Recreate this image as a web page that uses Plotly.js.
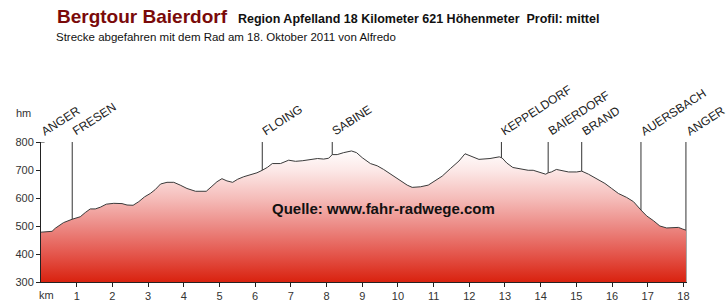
<!DOCTYPE html>
<html>
<head>
<meta charset="utf-8">
<script src="https://cdn.plot.ly/plotly-3.0.1.min.js"></script>
<style>html,body{margin:0;padding:0;background:#fff;}#chart{width:726px;height:303px;}</style>
</head>
<body>
<div id="chart"></div>
<script>
// ---- data ----
var km = [0, 0.31, 0.4, 0.49, 0.63, 0.87, 1.10, 1.24, 1.38, 1.52, 1.66, 1.83, 2.04, 2.27, 2.41, 2.58, 2.74, 2.90, 3.06, 3.2, 3.35, 3.53, 3.72, 3.9, 4.09, 4.33, 4.47, 4.63, 4.79, 4.93, 5.07, 5.21, 5.37, 5.51, 5.68, 5.87, 6.05, 6.2, 6.35, 6.48, 6.71, 6.94, 7.13, 7.32, 7.55, 7.75, 7.92, 8.06, 8.16, 8.30, 8.48, 8.70, 8.84, 9.0, 9.23, 9.42, 9.60, 9.84, 10.07, 10.26, 10.40, 10.63, 10.85, 11.01, 11.24, 11.47, 11.71, 11.88, 12.08, 12.27, 12.58, 12.84, 12.92, 13.05, 13.22, 13.47, 13.65, 13.79, 13.98, 14.14, 14.21, 14.30, 14.44, 14.59, 14.78, 15.01, 15.15, 15.34, 15.57, 15.8, 15.99, 16.18, 16.41, 16.6, 16.81, 16.97, 17.16, 17.34, 17.53, 17.72, 17.86, 17.98, 18.07];
var elevation = [478, 481, 492, 500, 512, 524, 533, 548, 561, 561, 567, 578, 581, 580, 575, 574, 587, 604, 616, 630, 650, 656, 656, 646, 634, 624, 624, 624, 642, 658, 669, 661, 656, 667, 676, 682, 690, 699, 710, 723, 723, 735, 731, 733, 738, 741, 739, 742, 755, 755, 762, 768, 762, 744, 723, 715, 702, 682, 660, 646, 638, 640, 646, 658, 678, 705, 732, 758, 749, 738, 741, 747, 743, 725, 709, 702, 699, 699, 691, 685, 690, 693, 702, 697, 693, 693, 696, 685, 670, 652, 634, 616, 602, 587, 557, 536, 519, 500, 493, 494, 495, 489, 485];
var placeNames = ["ANGER", "FRESEN", "FLOING", "SABINE", "KEPPELDORF", "BAIERDORF", "BRAND", "AUERSBACH", "ANGER"];
var placeKm = [0, 0.875, 6.2, 8.16, 12.9, 14.21, 15.15, 16.81, 18.07];
var kmTicks = [1, 2, 3, 4, 5, 6, 7, 8, 9, 10, 11, 12, 13, 14, 15, 16, 17, 18];
var hmTicks = [300, 400, 500, 600, 700, 800];
var titleMain = "Bergtour Baierdorf";
var titleInfo = "Region Apfelland 18 Kilometer 621 Höhenmeter \u00a0Profil: mittel";
var subtitle = "Strecke abgefahren mit dem Rad am 18. Oktober 2011 von Alfredo";
var watermark = "Quelle: www.fahr-radwege.com";

// ---- layout geometry ----
var W = 726, H = 303, L = 41, R = 39, T = 142, B = 21;
var pw = W - L - R, ph = H - T - B;
function px(x) { return (x - L) / pw; }
function py(y) { return (H - B - y) / ph; }

var font = "Arial, 'Liberation Sans', sans-serif";

var trace = {
  x: km, y: elevation, type: 'scatter', mode: 'lines',
  line: {color: '#3a3a3a', width: 1},
  fill: 'tozeroy',
  fillgradient: {
    type: 'vertical', start: 300, stop: 775,
    colorscale: [[0, '#d9220f'], [0.21, '#e4564c'], [0.42, '#ec8a85'], [0.63, '#f5bdba'], [0.84, '#fce8e7'], [1, '#ffffff']]
  },
  hoverinfo: 'skip'
};

var shapes = [];
for (var i = 1; i < placeKm.length; i++) {
  shapes.push({type: 'line', xref: 'x', yref: 'y', x0: placeKm[i], x1: placeKm[i], y0: 300, y1: 800,
    layer: 'below', line: {color: '#333', width: 1}});
}
shapes.push({type: 'line', xref: 'x', yref: 'y', x0: 0, x1: 0.1, y0: 800, y1: 800, line: {color: '#222', width: 1}});

var annotations = [];
for (var j = 0; j < placeNames.length; j++) {
  annotations.push({x: placeKm[j], y: 800, xref: 'x', yref: 'y', text: placeNames[j], showarrow: false,
    textangle: -33, xanchor: 'left', yanchor: 'bottom', xshift: -5, yshift: 1,
    font: {family: font, size: 12, color: '#222'}});
}
annotations.push({x: px(55), y: py(16.5), xref: 'paper', yref: 'paper', text: '<b>' + titleMain + '</b>', showarrow: false,
  xanchor: 'left', yanchor: 'middle', font: {family: font, size: 19, color: '#7a0a0a'}});
annotations.push({x: px(236), y: py(18.5), xref: 'paper', yref: 'paper', text: '<b>' + titleInfo + '</b>', showarrow: false,
  xanchor: 'left', yanchor: 'middle', font: {family: font, size: 12.5, color: '#111'}});
annotations.push({x: px(54), y: py(37), xref: 'paper', yref: 'paper', text: subtitle, showarrow: false,
  xanchor: 'left', yanchor: 'middle', font: {family: font, size: 11.5, color: '#111'}});
annotations.push({x: px(270), y: py(208.7), xref: 'paper', yref: 'paper', text: '<b>' + watermark + '</b>', showarrow: false,
  xanchor: 'left', yanchor: 'middle', font: {family: font, size: 15, color: '#111'}});
annotations.push({x: px(14), y: py(113), xref: 'paper', yref: 'paper', text: 'hm', showarrow: false,
  xanchor: 'left', yanchor: 'middle', font: {family: font, size: 11, color: '#333'}});
annotations.push({x: px(46), y: py(295), xref: 'paper', yref: 'paper', text: 'km', showarrow: false,
  xanchor: 'center', yanchor: 'middle', font: {family: font, size: 11, color: '#333'}});

var layout = {
  width: W, height: H,
  margin: {l: L, r: R, t: T, b: B, pad: 0},
  paper_bgcolor: '#ffffff', plot_bgcolor: '#ffffff',
  showlegend: false,
  xaxis: {range: [0, 18.1], tickvals: kmTicks, ticks: 'outside', ticklen: 4, tickcolor: '#222',
    showline: true, linecolor: '#222', linewidth: 1, showgrid: false, zeroline: false,
    tickfont: {family: font, size: 11, color: '#333'}, fixedrange: true},
  yaxis: {range: [300, 800], tickvals: hmTicks, ticks: 'outside', ticklen: 4, tickcolor: '#222',
    showline: true, linecolor: '#222', linewidth: 1, showgrid: false, zeroline: false,
    tickfont: {family: font, size: 11, color: '#333'}, fixedrange: true},
  shapes: shapes,
  annotations: annotations
};

Plotly.newPlot('chart', [trace], layout, {displayModeBar: false, staticPlot: true});
</script>
</body>
</html>
